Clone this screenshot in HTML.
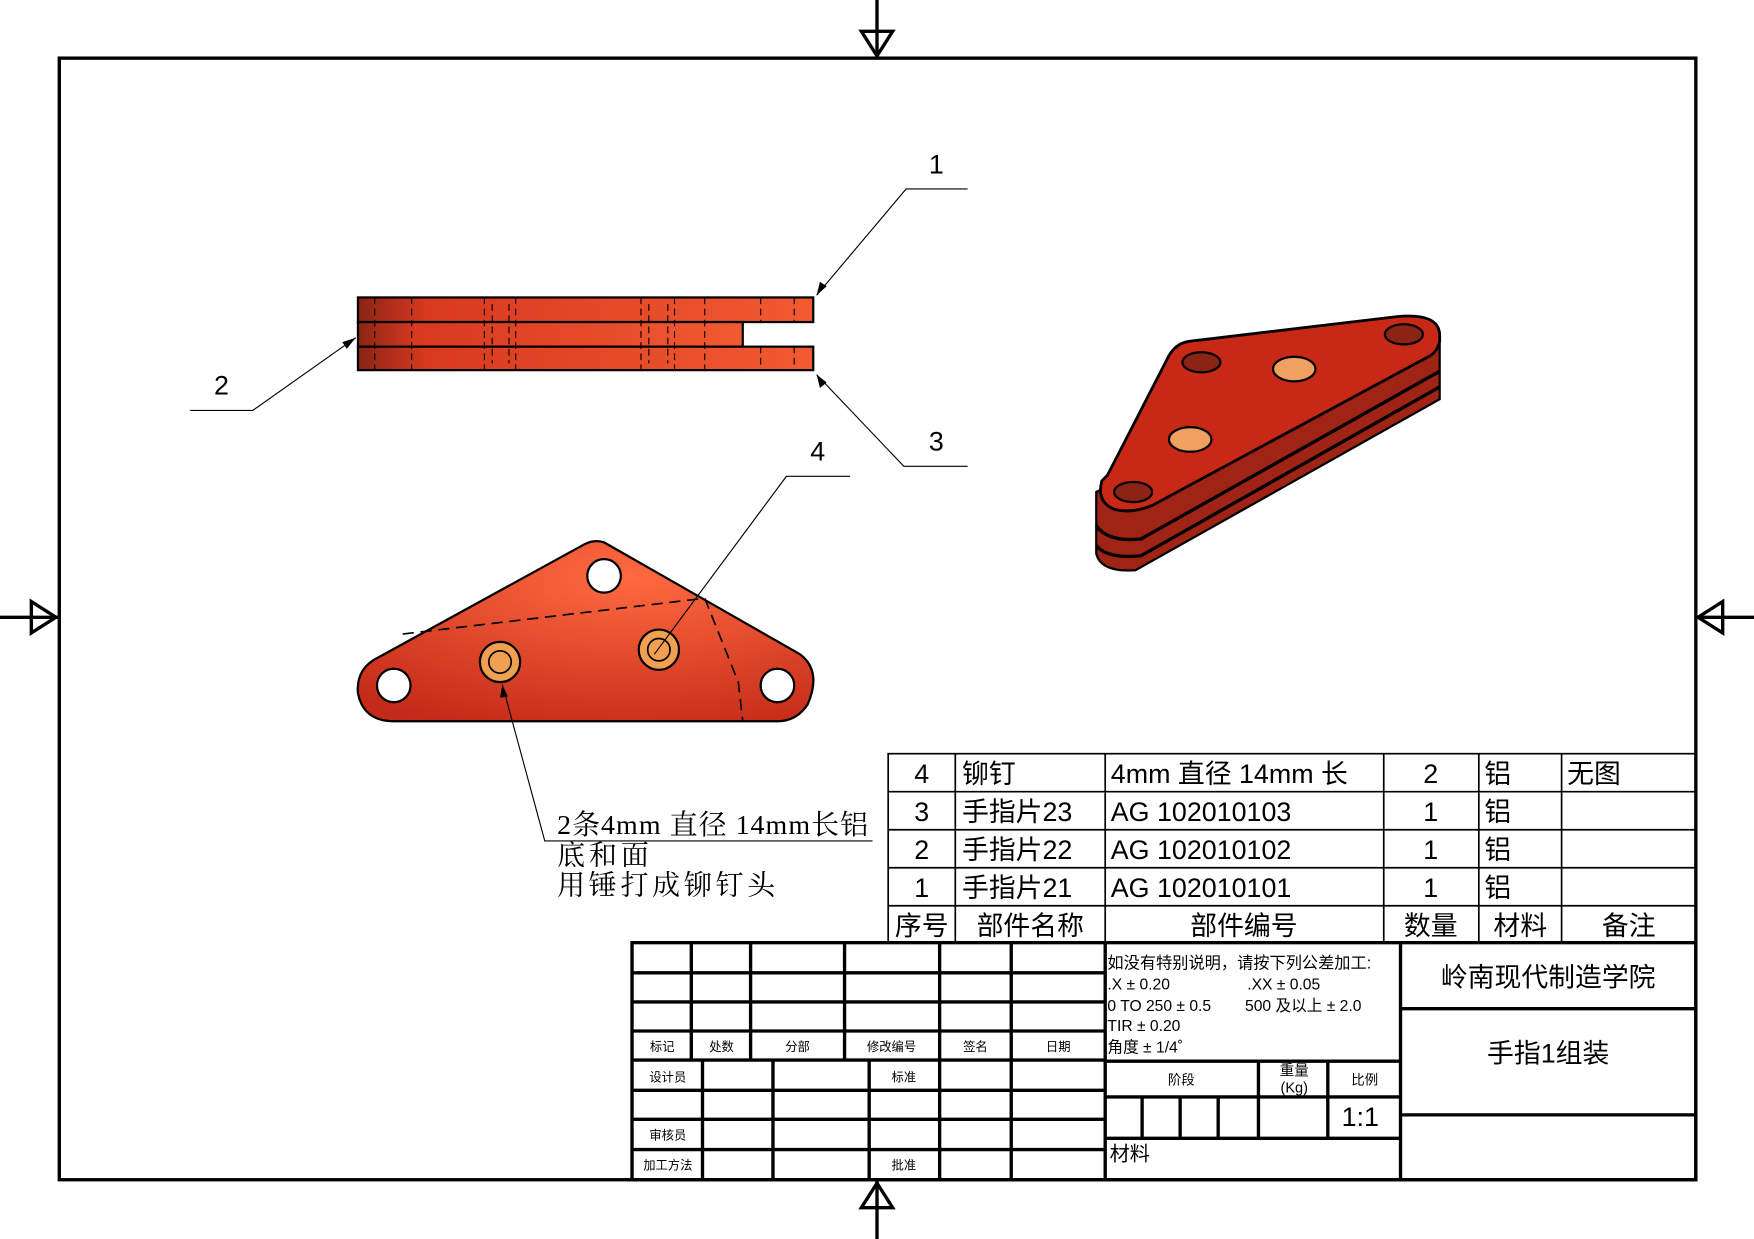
<!DOCTYPE html>
<html><head><meta charset="utf-8"><style>
html,body{margin:0;padding:0;background:#fff}
svg{display:block}
text{font-family:"Liberation Sans","Noto Sans CJK SC",sans-serif;fill:#000}
.s{font-family:"Liberation Serif","Noto Serif CJK SC",serif}
</style></head><body>
<svg width="1754" height="1239" viewBox="0 0 1568 1108" preserveAspectRatio="none" xmlns="http://www.w3.org/2000/svg">
<defs>
<linearGradient id="g1" x1="0" x2="1" y1="0" y2="0"><stop offset="0" stop-color="#8a2414"/><stop offset="0.15" stop-color="#d8391f"/><stop offset="1" stop-color="#f25a32"/></linearGradient>
<radialGradient id="g2" cx="0.6" cy="0.2" r="0.9"><stop offset="0" stop-color="#ff6a40"/><stop offset="1" stop-color="#c42a18"/></radialGradient>
</defs>
<rect x="53" y="52" width="1463" height="1003" fill="none" stroke="#000" stroke-width="3"/>
<g stroke="#000" stroke-width="3" fill="none">
<line x1="784" y1="0" x2="784" y2="52"/><polygon points="770,28 798,28 784,50"/>
<line x1="784" y1="1055" x2="784" y2="1108"/><polygon points="770,1080 798,1080 784,1058"/>
<line x1="0" y1="552" x2="53" y2="552"/><polygon points="28,538 28,566 50,552"/>
<line x1="1516" y1="552" x2="1568" y2="552"/><polygon points="1540,538 1540,566 1518,552"/>
</g>
<g stroke="#000" stroke-width="2">
<rect x="320" y="266" width="407" height="22" fill="url(#g1)"/>
<rect x="320" y="288" width="344" height="22" fill="url(#g1)"/>
<rect x="320" y="310" width="407" height="21" fill="url(#g1)"/>
</g>
<g stroke="#000" stroke-width="1" stroke-dasharray="6,4" fill="none">
<line x1="335" y1="266" x2="335" y2="331"/><line x1="368" y1="266" x2="368" y2="331"/>
<line x1="433" y1="266" x2="433" y2="331"/><line x1="461" y1="266" x2="461" y2="331"/>
<line x1="573" y1="266" x2="573" y2="331"/><line x1="603" y1="266" x2="603" y2="331"/>
<line x1="630" y1="266" x2="630" y2="331"/><line x1="680" y1="266" x2="680" y2="288"/><line x1="680" y1="310" x2="680" y2="331"/>
<line x1="710" y1="266" x2="710" y2="288"/><line x1="710" y1="310" x2="710" y2="331"/>
<line x1="440" y1="272" x2="440" y2="325"/><line x1="455" y1="272" x2="455" y2="325"/>
<line x1="580" y1="272" x2="580" y2="325"/><line x1="597" y1="272" x2="597" y2="325"/>
</g>
<path d="M540,485 L715,585 Q735,600 722,630 Q712,645 695,645 L352,645 Q325,645 320,620 Q318,598 338,588 L522,487 Q531,482 540,485 Z" fill="url(#g2)" stroke="#000" stroke-width="2"/>
<g stroke="#000" stroke-width="1.5" stroke-dasharray="10,6" fill="none">
<line x1="360" y1="567" x2="630" y2="535"/><path d="M630,535 L660,610 L664,645"/>
</g>
<g stroke="#000" stroke-width="2">
<circle cx="352" cy="613" r="15" fill="#fff"/><circle cx="540" cy="515" r="15" fill="#fff"/><circle cx="695" cy="613" r="15" fill="#fff"/>
<circle cx="447" cy="592" r="18" fill="#f0a050"/><circle cx="447" cy="592" r="10" fill="none" stroke-width="1.5"/>
<circle cx="589" cy="581" r="18" fill="#f0a050"/><circle cx="589" cy="581" r="10" fill="none" stroke-width="1.5"/>
</g>
<path d="M980,440 L980,495 Q984,512 1015,510 L1287,357 L1287,300 Z" fill="#a02415" stroke="#000" stroke-width="2"/>
<g stroke="#000" stroke-width="3" fill="none">
<path d="M980,470 Q990,485 1020,482 L1287,332"/>
<path d="M980,488 Q990,500 1020,497 L1287,346"/>
</g>
<path d="M990,425 L1045,318 Q1052,306 1065,305 L1250,283 Q1287,280 1287,300 L1287,305 Q1285,316 1275,320 L1030,452 Q1010,460 995,455 Q980,448 985,430 Z" fill="#c82816" stroke="#000" stroke-width="2.5"/>
<g stroke="#000" stroke-width="2">
<ellipse cx="1074" cy="324" rx="17" ry="9" fill="#8a2414"/><ellipse cx="1255" cy="299" rx="17" ry="9" fill="#8a2414"/><ellipse cx="1013" cy="440" rx="17" ry="9" fill="#8a2414"/>
<ellipse cx="1157" cy="330" rx="19" ry="11" fill="#f0a060"/><ellipse cx="1064" cy="393" rx="19" ry="11" fill="#f0a060"/>
</g>
<g stroke="#000" stroke-width="1" fill="none">
<polyline points="865,169 810,169 730,264"/><polyline points="170,367 226,367 318,302"/>
<polyline points="865,417 808,417 730,335"/><polyline points="760,426 703,426 585,585"/>
<polyline points="449,612 487,752 780,752"/>
</g>
<g fill="#000"><polygon points="730,264 733,252 739,256"/><polygon points="318,302 306,306 310,312"/><polygon points="730,335 733,347 739,342"/><polygon points="449,612 447,624 454,623"/></g>
<text x="837" y="155" font-size="24" text-anchor="middle">1</text>
<text x="198" y="353" font-size="24" text-anchor="middle">2</text>
<text x="837" y="403" font-size="24" text-anchor="middle">3</text>
<text x="731" y="412" font-size="24" text-anchor="middle">4</text>
<text class="s" x="498" y="746" font-size="25" textLength="278" lengthAdjust="spacing">2条4mm  直径  14mm长铝</text>
<text class="s" x="498" y="773" font-size="25" textLength="82">底和面</text>
<text class="s" x="498" y="800" font-size="25" textLength="195">用锤打成铆钉头</text>
<g stroke="#000" stroke-width="1.5" fill="none">
<rect x="794" y="674" width="722" height="169"/>
<line x1="794" y1="708" x2="1516" y2="708"/><line x1="794" y1="742" x2="1516" y2="742"/><line x1="794" y1="776" x2="1516" y2="776"/><line x1="794" y1="810" x2="1516" y2="810"/>
<line x1="854" y1="674" x2="854" y2="843"/><line x1="988" y1="674" x2="988" y2="843"/><line x1="1237" y1="674" x2="1237" y2="843"/><line x1="1322" y1="674" x2="1322" y2="843"/><line x1="1396" y1="674" x2="1396" y2="843"/>
</g>
<g font-size="24">
<text x="824" y="700" text-anchor="middle">4</text><text x="860" y="700">铆钉</text><text x="993" y="700">4mm 直径 14mm 长</text><text x="1279" y="700" text-anchor="middle">2</text><text x="1327" y="700">铝</text><text x="1401" y="700">无图</text>
<text x="824" y="734" text-anchor="middle">3</text><text x="860" y="734">手指片23</text><text x="993" y="734">AG 102010103</text><text x="1279" y="734" text-anchor="middle">1</text><text x="1327" y="734">铝</text>
<text x="824" y="768" text-anchor="middle">2</text><text x="860" y="768">手指片22</text><text x="993" y="768">AG 102010102</text><text x="1279" y="768" text-anchor="middle">1</text><text x="1327" y="768">铝</text>
<text x="824" y="802" text-anchor="middle">1</text><text x="860" y="802">手指片21</text><text x="993" y="802">AG 102010101</text><text x="1279" y="802" text-anchor="middle">1</text><text x="1327" y="802">铝</text>
<text x="824" y="836" text-anchor="middle">序号</text><text x="921" y="836" text-anchor="middle">部件名称</text><text x="1112" y="836" text-anchor="middle">部件编号</text><text x="1279" y="836" text-anchor="middle">数量</text><text x="1359" y="836" text-anchor="middle">材料</text><text x="1456" y="836" text-anchor="middle">备注</text>
</g>
<g stroke="#000" stroke-width="3" fill="none">
<rect x="565" y="843" width="951" height="212"/>
<line x1="565" y1="870" x2="988" y2="870"/><line x1="565" y1="896" x2="988" y2="896"/><line x1="565" y1="922" x2="988" y2="922"/><line x1="565" y1="948" x2="988" y2="948"/>
<line x1="565" y1="975" x2="988" y2="975"/><line x1="565" y1="1001" x2="988" y2="1001"/><line x1="565" y1="1028" x2="988" y2="1028"/>
<line x1="618" y1="843" x2="618" y2="948"/><line x1="671" y1="843" x2="671" y2="948"/><line x1="755" y1="843" x2="755" y2="948"/><line x1="840" y1="843" x2="840" y2="1055"/><line x1="904" y1="843" x2="904" y2="1055"/><line x1="988" y1="843" x2="988" y2="1055"/>
<line x1="628" y1="948" x2="628" y2="1055"/><line x1="691" y1="948" x2="691" y2="1055"/><line x1="777" y1="948" x2="777" y2="1055"/>
<line x1="988" y1="949" x2="1252" y2="949"/><line x1="988" y1="981" x2="1252" y2="981"/><line x1="988" y1="1018" x2="1252" y2="1018"/>
<line x1="1252" y1="843" x2="1252" y2="1055"/><line x1="1125" y1="949" x2="1125" y2="1018"/><line x1="1187" y1="949" x2="1187" y2="1018"/>
<line x1="1021" y1="981" x2="1021" y2="1018"/><line x1="1055" y1="981" x2="1055" y2="1018"/><line x1="1089" y1="981" x2="1089" y2="1018"/>
<line x1="1252" y1="902" x2="1516" y2="902"/><line x1="1252" y1="997" x2="1516" y2="997"/>
</g>
<g font-size="11" text-anchor="middle" fill="#333">
<text x="592" y="940">标记</text><text x="645" y="940">处数</text><text x="713" y="940">分部</text><text x="797" y="940">修改编号</text><text x="872" y="940">签名</text><text x="946" y="940">日期</text>
<text x="597" y="967">设计员</text><text x="808" y="967">标准</text><text x="597" y="1019">审核员</text><text x="597" y="1046">加工方法</text><text x="808" y="1046">批准</text>
<text x="1056" y="970" font-size="12">阶段</text><text x="1157" y="962" font-size="13">重量</text><text x="1157" y="977" font-size="13">(Kg)</text><text x="1220" y="970" font-size="12">比例</text>
</g>
<g font-size="14">
<text x="990" y="866" font-size="14.5">如没有特别说明，请按下列公差加工:</text>
<text x="990" y="885">.X ± 0.20</text><text x="1115" y="885">.XX ± 0.05</text>
<text x="990" y="904">0 TO 250 ± 0.5</text><text x="1113" y="904">500 及以上 ± 2.0</text>
<text x="990" y="922">TIR ± 0.20</text><text x="990" y="941">角度 ± 1/4˚</text>
<text x="992" y="1038" font-size="18">材料</text>
</g>
<text x="1216" y="1007" font-size="24" text-anchor="middle">1:1</text>
<text x="1384" y="882" font-size="24" text-anchor="middle">岭南现代制造学院</text>
<text x="1384" y="950" font-size="24" text-anchor="middle">手指1组装</text>
</svg>
</body></html>
